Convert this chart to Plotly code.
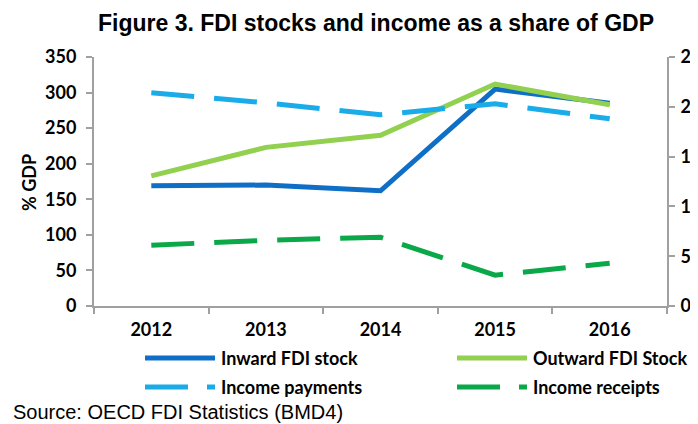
import plotly.graph_objects as go

years = ["2012", "2013", "2014", "2015", "2016"]
inward_stock = [169, 170, 162, 305, 285]
outward_stock = [183, 223, 240, 312, 283]
income_payments = [21.4, 20.4, 19.2, 20.3, 18.8]
income_receipts = [6.1, 6.6, 6.9, 3.1, 4.3]
left_ticks = [0, 50, 100, 150, 200, 250, 300, 350]
right_ticks = [0, 5, 10, 15, 20, 25]

C_IN = "#0F6FC6"
C_OUT = "#92D050"
C_PAY = "#1AACE8"
C_REC = "#0BA84A"

# page body has an 8px default margin, so the figure is drawn 8px smaller
OFF = 8
W, H = 698 - OFF, 424 - OFF
L, T = 94 - OFF, 57 - OFF
R = W - (667 - OFF)
B = H - (306 - OFF)
PW, PH = W - L - R, H - T - B

def px(x):  # reference-window pixel -> paper
    return (x - OFF - L) / PW

def py(y):
    return (H - B - (y - OFF)) / PH

DASH = "43px,20px"
LW = 5
TF = dict(family="Lato", size=18, color="#000000", weight="bold")

fig = go.Figure()
fig.add_trace(go.Scatter(x=years, y=inward_stock, mode="lines", name="Inward FDI stock",
                         line=dict(color=C_IN, width=LW), yaxis="y"))
fig.add_trace(go.Scatter(x=years, y=outward_stock, mode="lines", name="Outward FDI Stock",
                         line=dict(color=C_OUT, width=LW), yaxis="y"))
fig.add_trace(go.Scatter(x=years, y=income_payments, mode="lines", name="Income payments",
                         line=dict(color=C_PAY, width=LW, dash=DASH), yaxis="y2"))
fig.add_trace(go.Scatter(x=years, y=income_receipts, mode="lines", name="Income receipts",
                         line=dict(color=C_REC, width=LW, dash=DASH), yaxis="y2"))

axis_common = dict(showgrid=False, zeroline=False, showline=True, linecolor="#A0A0A0",
                   linewidth=2, ticks="outside", ticklen=6, tickcolor="#A0A0A0",
                   tickwidth=1.5, tickfont=TF, automargin=False)

fig.update_layout(
    width=W, height=H,
    margin=dict(l=L, r=R, t=T, b=B, autoexpand=False),
    paper_bgcolor="white", plot_bgcolor="white",
    showlegend=False,
    xaxis=dict(type="category", range=[-0.5, 4.5], tickson="boundaries",
               ticklabelstandoff=6, **axis_common),
    yaxis=dict(range=[0, 350], tickvals=left_ticks, ticklabelstandoff=6, **axis_common),
    yaxis2=dict(range=[0, 25], tickvals=right_ticks, overlaying="y", side="right",
                ticklabelstandoff=2, **axis_common),
    font=dict(family="Lato", color="#000000"),
)

# y-axis title
fig.add_annotation(text="<b>% GDP</b>", xref="paper", yref="paper", x=px(29), y=py(183),
                   xanchor="center", yanchor="middle", textangle=-90, showarrow=False,
                   font=dict(family="Lato", size=18, color="#000"))

# Title
fig.add_annotation(text="<b>Figure 3. FDI stocks and income as a share of GDP</b>",
                   xref="paper", yref="paper", x=px(376), y=py(23), xanchor="center", yanchor="middle",
                   showarrow=False, font=dict(family="Liberation Sans", size=23, color="#000"))

# Source
fig.add_annotation(text="Source: OECD FDI Statistics (BMD4)",
                   xref="paper", yref="paper", x=px(11), y=py(412), xanchor="left", yanchor="middle",
                   showarrow=False, font=dict(family="Liberation Sans", size=20, color="#000"))

# Custom legend (samples as long as the reference's)
LDASH = "43px,19px"
legend_items = [
    ("Inward FDI stock", C_IN, "solid", 145, 215, 358, 219),
    ("Outward FDI Stock", C_OUT, "solid", 457, 527, 358, 531),
    ("Income payments", C_PAY, LDASH, 145, 215, 387, 219),
    ("Income receipts", C_REC, LDASH, 457, 527, 387, 531),
]
for name, col, dash, x0, x1, yy, tx in legend_items:
    fig.add_shape(type="line", xref="paper", yref="paper", x0=px(x0), x1=px(x1),
                  y0=py(yy), y1=py(yy), line=dict(color=col, width=LW, dash=dash))
    fig.add_annotation(text="<b>%s</b>" % name, xref="paper", yref="paper", x=px(tx), y=py(yy),
                       xanchor="left", yanchor="middle", showarrow=False,
                       font=dict(family="Lato", size=18, color="#000"))

fig.write_html("out.html")
